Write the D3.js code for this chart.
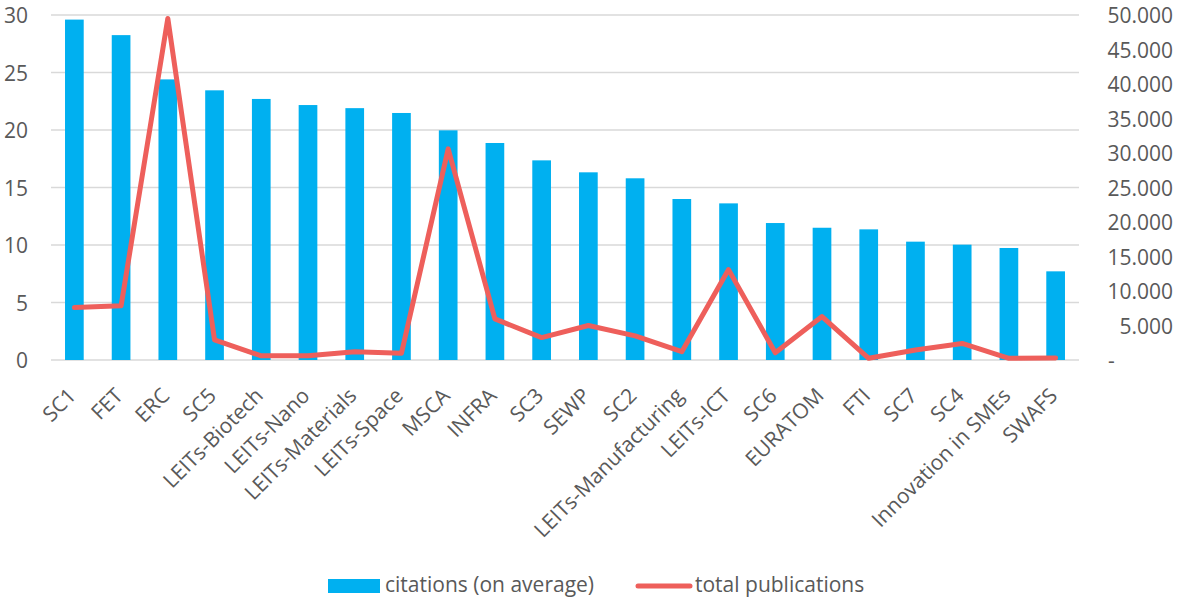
<!DOCTYPE html>
<html>
<head>
<meta charset="utf-8">
<script src="https://cdn.jsdelivr.net/npm/d3@7"></script>
<style>
  html, body { margin: 0; padding: 0; background: #fff; }
  svg { display: block; }
  text { font-family: "Open Sans", sans-serif; fill: #595959; }
</style>
</head>
<body>
<svg id="chart" width="1177" height="598"></svg>
<script>
const categories = ["SC1","FET","ERC","SC5","LEITs-Biotech","LEITs-Nano","LEITs-Materials","LEITs-Space","MSCA","INFRA","SC3","SEWP","SC2","LEITs-Manufacturing","LEITs-ICT","SC6","EURATOM","FTI","SC7","SC4","Innovation in SMEs","SWAFS"];
const citations = [29.6,28.25,24.4,23.45,22.7,22.17,21.9,21.48,19.97,18.87,17.36,16.32,15.8,14.0,13.62,11.91,11.5,11.36,10.29,10.03,9.74,7.71];
const publications = [7600,7850,49500,2900,600,600,1200,970,30600,5950,3250,5000,3500,1200,13100,1050,6300,250,1450,2400,250,300];
const leftTicks = [0,5,10,15,20,25,30];
const rightTicks = [0,5000,10000,15000,20000,25000,30000,35000,40000,45000,50000];
const seriesNames = ["citations (on average)", "total publications"];

const FS = "21px";
const svg = d3.select("#chart");
const plot = { left: 51, right: 1079, top: 15, bottom: 360 };

const x = d3.scaleBand().domain(categories).range([plot.left, plot.right]).paddingInner(0.6).paddingOuter(0.3);
const yL = d3.scaleLinear().domain([0, 30]).range([plot.bottom, plot.top]);
const yR = d3.scaleLinear().domain([0, 50000]).range([plot.bottom, plot.top]);

// gridlines
svg.append("g").selectAll("line").data(leftTicks).join("line")
  .attr("x1", plot.left).attr("x2", plot.right)
  .attr("y1", d => yL(d)).attr("y2", d => yL(d))
  .attr("stroke", "#D9D9D9").attr("stroke-width", 1.3);

// left axis
const axL = svg.append("g").attr("transform", `translate(${plot.left},0)`)
  .call(d3.axisLeft(yL).tickValues(leftTicks).tickSize(0).tickPadding(23));
axL.select(".domain").remove();
axL.selectAll("text").style("font-size", FS).attr("fill", "#595959").attr("dy", "0.36em");

// right axis
const fmtR = d => d === 0 ? "-" : d3.format(",")(d).replace(/,/g, ".");
const axR = svg.append("g").attr("transform", `translate(${plot.right},0)`)
  .call(d3.axisRight(yR).tickValues(rightTicks).tickSize(0).tickPadding(0).tickFormat(fmtR));
axR.select(".domain").remove();
axR.selectAll("text").style("font-size", FS).attr("fill", "#595959")
  .attr("text-anchor", d => d === 0 ? "start" : "end")
  .attr("x", d => d === 0 ? 29 : 94).attr("dy", "0.36em");

// bars
svg.append("g").selectAll("rect").data(categories).join("rect")
  .attr("x", d => x(d)).attr("width", x.bandwidth())
  .attr("y", (d, i) => yL(citations[i]))
  .attr("height", (d, i) => yL(0) - yL(citations[i]))
  .attr("fill", "#00B0F0");

// line
const line = d3.line().x((d, i) => x(categories[i]) + x.bandwidth() / 2).y(d => yR(d));
svg.append("path").datum(publications).attr("d", line)
  .attr("fill", "none").attr("stroke", "#EE5F5B").attr("stroke-width", 5)
  .attr("stroke-linejoin", "round").attr("stroke-linecap", "round");

// x labels
svg.append("g").selectAll("text").data(categories).join("text")
  .attr("transform", d => `translate(${x(d) + x.bandwidth() / 2 + 3},${plot.bottom + 37}) rotate(-45)`)
  .attr("text-anchor", "end")
  .style("font-size", FS).text(d => d);

// legend
const lg = svg.append("g");
lg.append("rect").attr("x", 328).attr("y", 579).attr("width", 52).attr("height", 14).attr("fill", "#00B0F0");
lg.append("text").attr("x", 385).attr("y", 592).style("font-size", FS).text(seriesNames[0]);
lg.append("line").attr("x1", 638).attr("x2", 690).attr("y1", 586).attr("y2", 586)
  .attr("stroke", "#EE5F5B").attr("stroke-width", 5).attr("stroke-linecap", "round");
lg.append("text").attr("x", 695).attr("y", 592).style("font-size", FS).text(seriesNames[1]);
</script>
</body>
</html>
